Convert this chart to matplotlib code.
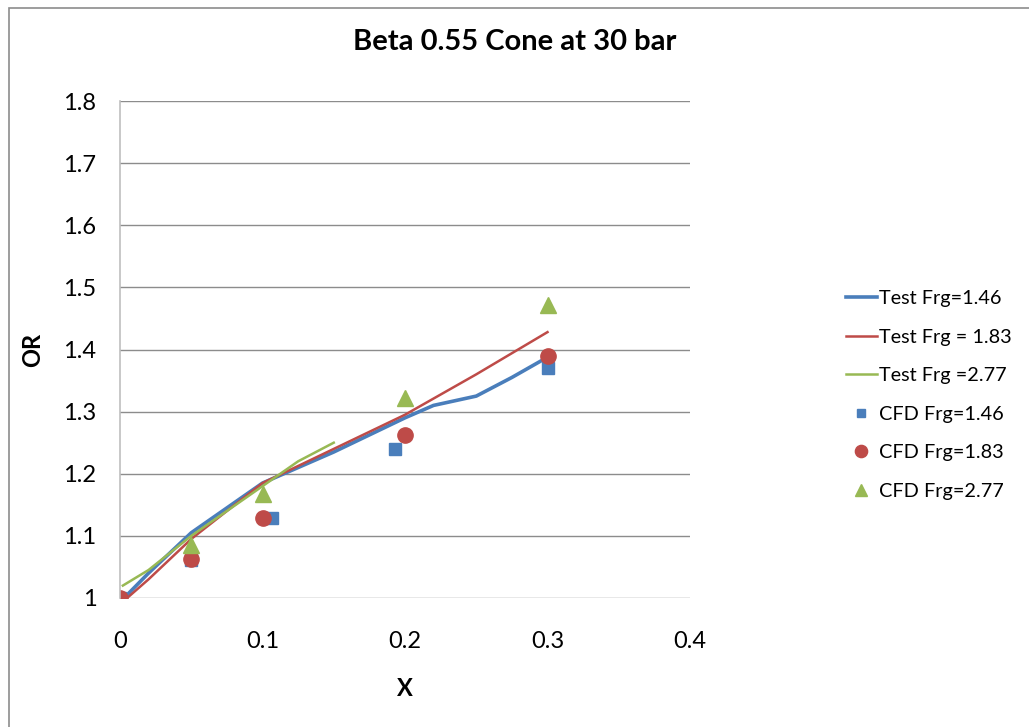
import matplotlib
matplotlib.use('Agg')
import matplotlib.pyplot as plt
from matplotlib.patches import Rectangle

plt.rcParams['font.family'] = ['Lato', 'DejaVu Sans']

# test curves
test_146_x = [0.005, 0.02, 0.05, 0.075, 0.1, 0.15, 0.2, 0.22, 0.25, 0.275, 0.298]
test_146_y = [1.005, 1.04, 1.105, 1.145, 1.185, 1.235, 1.29, 1.31, 1.325, 1.355, 1.385]
test_183_x = [0.005, 0.02, 0.05, 0.075, 0.1, 0.15, 0.2, 0.25, 0.3]
test_183_y = [1.0, 1.03, 1.095, 1.14, 1.185, 1.24, 1.295, 1.36, 1.428]
test_277_x = [0.002, 0.02, 0.05, 0.075, 0.1, 0.125, 0.15]
test_277_y = [1.02, 1.045, 1.1, 1.14, 1.18, 1.22, 1.25]

# CFD points
cfd_146_x = [0.0, 0.05, 0.107, 0.193, 0.3]
cfd_146_y = [1.0, 1.061, 1.129, 1.24, 1.37]
cfd_183_x = [0.0, 0.05, 0.1, 0.2, 0.3]
cfd_183_y = [1.0, 1.063, 1.128, 1.262, 1.389]
cfd_277_x = [0.05, 0.1, 0.2, 0.3]
cfd_277_y = [1.085, 1.167, 1.322, 1.472]

blue = '#4a7ebb'
red = '#be4b48'
green = '#98b954'

fig = plt.figure(figsize=(10.29, 7.27), dpi=100)
ax = fig.add_axes([120/1029, 1-598/727, 570/1029, 497/727])

fig.patches.append(Rectangle((9/1029, -0.05), 1.1, 1-8/727+0.05, transform=fig.transFigure,
                             fill=False, edgecolor='#8c8c8c', linewidth=1.2, zorder=0))

ax.plot(test_146_x, test_146_y, color=blue, lw=2.6, label='Test Frg=1.46')
ax.plot(test_183_x, test_183_y, color=red, lw=1.8, label='Test Frg = 1.83')
ax.plot(test_277_x, test_277_y, color=green, lw=1.8, label='Test Frg =2.77')
ax.plot(cfd_146_x, cfd_146_y, 's', color=blue, ms=8, label='CFD Frg=1.46')
ax.plot(cfd_183_x, cfd_183_y, 'o', color=red, ms=11, label='CFD Frg=1.83')
ax.plot(cfd_277_x, cfd_277_y, '^', color=green, ms=11, label='CFD Frg=2.77')

ax.set_xlim(0, 0.4)
ax.set_ylim(1, 1.8)
ax.set_xticks([0, 0.1, 0.2, 0.3, 0.4])
ax.set_xticklabels(['0', '0.1', '0.2', '0.3', '0.4'])
ax.set_yticks([1, 1.1, 1.2, 1.3, 1.4, 1.5, 1.6, 1.7, 1.8])
ax.set_yticklabels(['1', '1.1', '1.2', '1.3', '1.4', '1.5', '1.6', '1.7', '1.8'])
ax.tick_params(length=0, labelsize=17, pad=17)
ax.tick_params(axis='x', pad=24)
ax.grid(axis='y', color='#8c8c8c', lw=1)
ax.set_axisbelow(True)
for s in ['top', 'right', 'bottom']:
    ax.spines[s].set_visible(False)
ax.spines['left'].set_color('#bfbfbf')
ax.spines['left'].set_linewidth(1.2)

ax.set_xlabel('X', fontsize=17, fontweight='bold', labelpad=18)
ax.set_ylabel('OR', fontsize=17, fontweight='bold', labelpad=14)
fig.text(0.5, 1-42/727, 'Beta 0.55 Cone at 30 bar', ha='center', va='center',
         fontsize=21, fontweight='bold')

leg = ax.legend(loc='center left', bbox_to_anchor=(828/1029, 1-395/727),
                bbox_transform=fig.transFigure, frameon=False, fontsize=14.3,
                labelspacing=1.08, handlelength=1.55, handletextpad=0.1, markerscale=0.8)

fig.savefig('out.png', dpi=100)
